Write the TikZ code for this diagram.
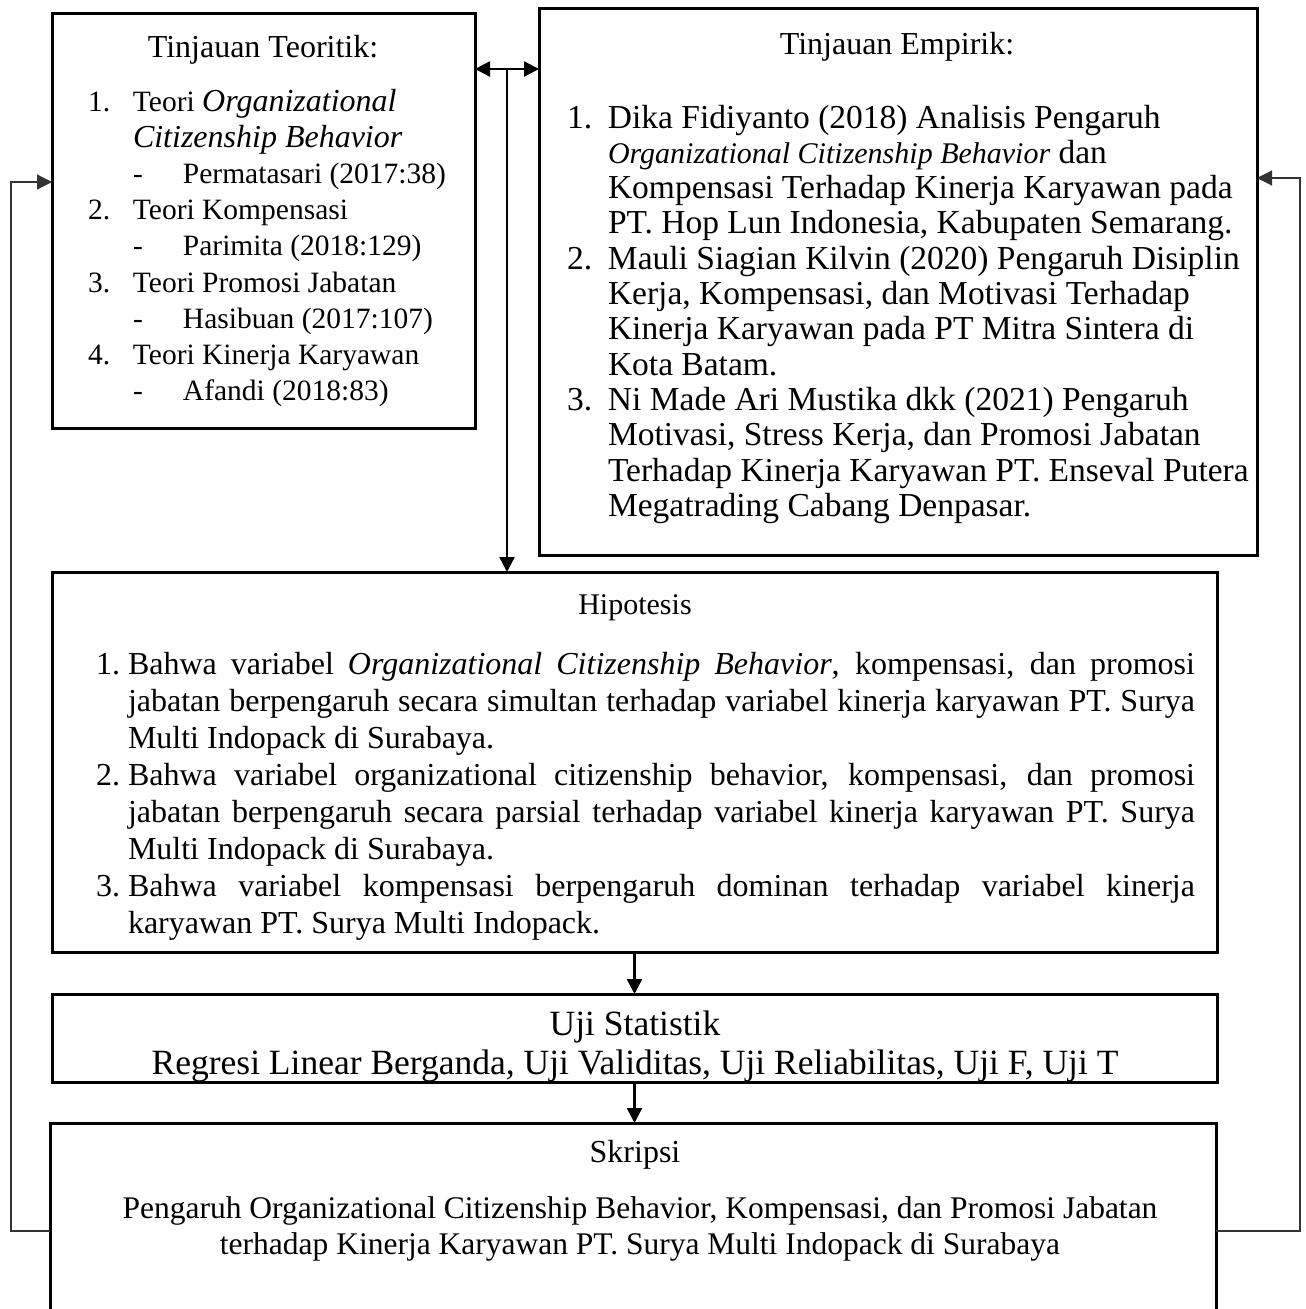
\documentclass[tikz,border=0pt]{standalone}
\usepackage{fontspec}
\setmainfont{Liberation Serif}
\usetikzlibrary{arrows.meta}
\newcommand\fontspaces{\spaceskip=0pt\relax\xspaceskip=0pt\relax}

\begin{document}
\begin{tikzpicture}[x=1pt,y=-1pt,
	box/.style={draw,line width=3pt,inner sep=0pt,outer sep=0pt,anchor=north west},
	link/.style={line width=2.4pt},
	back/.style={line width=1.2pt,draw=black!80},
	txt/.style={inner sep=0pt,outer sep=0pt,anchor=base west,font=\fontsize{29.5}{36.2}\selectfont},
	>={Triangle[length=15pt,width=15pt]}]
	\clip (0,0) rectangle (1306,1309);
	% boxes
		\node[box,minimum width=423pt,minimum height=415pt] (teori) at (52,13) {};
		\node[box,minimum width=718pt,minimum height=547pt] (empiris) at (539,8) {};
		\node[box,minimum width=1165pt,minimum height=380pt] (hipo) at (52,572) {};
		\node[box,minimum width=1165pt,minimum height=88pt] (uji) at (52,994) {};
		\node[box,minimum width=1166pt,minimum height=216pt] (skripsi) at (50,1123) {};
	% tinjauan teoritik
		\node[txt,anchor=base,font=\fontsize{32}{36}\selectfont] (teoriT) at (263,57) {Tinjauan Teoritik:};
		\node[txt,text width=385pt,align=left] (teoriL) at (88,111) {\fontspaces
			\makebox[45pt][l]{1.}Teori {\fontsize{32}{36.2}\selectfont\itshape Organizational}\\
			\hspace*{45pt}{\fontsize{32}{36.2}\selectfont\itshape Citizenship Behavior}\\
			\hspace*{45pt}\makebox[50pt][l]{-}Permatasari (2017:38)\\
			\makebox[45pt][l]{2.}Teori Kompensasi\\
			\hspace*{45pt}\makebox[50pt][l]{-}Parimita (2018:129)\\
			\makebox[45pt][l]{3.}Teori Promosi Jabatan\\
			\hspace*{45pt}\makebox[50pt][l]{-}Hasibuan (2017:107)\\
			\makebox[45pt][l]{4.}Teori Kinerja Karyawan\\
			\hspace*{45pt}\makebox[50pt][l]{-}Afandi (2018:83)};
	% tinjauan empirik
		\node[txt,anchor=base,font=\fontsize{32}{36}\selectfont] (empirisT) at (897,54) {Tinjauan Empirik:};
		\node[txt,text width=705pt,align=left,font=\fontsize{33.5}{35.3}\selectfont] (empirisL) at (567,128) {\fontspaces
			\makebox[41pt][l]{1.}Dika Fidiyanto (2018) Analisis Pengaruh\\
			\hspace*{41pt}{\fontsize{30}{35.3}\selectfont\itshape Organizational Citizenship Behavior} dan\\
			\hspace*{41pt}Kompensasi Terhadap Kinerja Karyawan pada\\
			\hspace*{41pt}PT. Hop Lun Indonesia, Kabupaten Semarang.\\
			\makebox[41pt][l]{2.}Mauli Siagian Kilvin (2020) Pengaruh Disiplin\\
			\hspace*{41pt}Kerja, Kompensasi, dan Motivasi Terhadap\\
			\hspace*{41pt}Kinerja Karyawan pada PT Mitra Sintera di\\
			\hspace*{41pt}Kota Batam.\\
			\makebox[41pt][l]{3.}Ni Made Ari Mustika dkk (2021) Pengaruh\\
			\hspace*{41pt}Motivasi, Stress Kerja, dan Promosi Jabatan\\
			\hspace*{41pt}Terhadap Kinerja Karyawan PT. Enseval Putera\\
			\hspace*{41pt}Megatrading Cabang Denpasar.};
	% hipotesis
		\node[txt,anchor=base,font=\fontsize{30}{36}\selectfont] (hipoT) at (635,614) {Hipotesis};
		\node[txt,text width=1120pt,align=left,font=\fontsize{32}{37}\selectfont] (hipoL) at (96,674) {\fontspaces
			\makebox[32pt][l]{1.}\hbox to 1067pt{Bahwa variabel \textit{Organizational Citizenship Behavior}, kompensasi, dan promosi}\\
			\hspace*{32pt}\hbox to 1067pt{jabatan berpengaruh secara simultan terhadap variabel kinerja karyawan PT. Surya}\\
			\hspace*{32pt}Multi Indopack di Surabaya.\\
			\makebox[32pt][l]{2.}\hbox to 1067pt{Bahwa variabel organizational citizenship behavior, kompensasi, dan promosi}\\
			\hspace*{32pt}\hbox to 1067pt{jabatan berpengaruh secara parsial terhadap variabel kinerja karyawan PT. Surya}\\
			\hspace*{32pt}Multi Indopack di Surabaya.\\
			\makebox[32pt][l]{3.}\hbox to 1067pt{Bahwa variabel kompensasi berpengaruh dominan terhadap variabel kinerja}\\
			\hspace*{32pt}karyawan PT. Surya Multi Indopack.};
	% uji statistik
		\node[txt,anchor=base,font=\fontsize{35.5}{39}\selectfont] (ujiT) at (635,1035) {Uji Statistik};
		\node[txt,anchor=base,font=\fontsize{35.5}{39}\selectfont] (ujiL) at (635,1074) {Regresi Linear Berganda, Uji Validitas, Uji Reliabilitas, Uji F, Uji T};
	% skripsi
		\node[txt,anchor=base,font=\fontsize{32}{36}\selectfont] (skripsiT) at (635,1162) {Skripsi};
		\node[txt,anchor=base,text width=1150pt,align=center,font=\fontsize{31.5}{36}\selectfont] (skripsiL) at (640,1218) {\fontspaces
			\mbox{Pengaruh Organizational Citizenship Behavior, Kompensasi, dan Promosi Jabatan}\\
			\mbox{terhadap Kinerja Karyawan PT. Surya Multi Indopack di Surabaya}};
	% connectors
		\coordinate (split) at (507,69);
		\draw[link,<->] (teori.east|-split) -- (empiris.west|-split);
		\draw[link,->] (split) -- (split|-hipo.north);
		\draw[link,->] (hipo.south) -- (hipo.south|-uji.north);
		\draw[link,->] (uji.south) -- (uji.south|-skripsi.north);
	% feedback lines
		\coordinate (backL) at (11,182);
		\coordinate (backR) at (1300,178);
		\draw[back,->] (skripsi.west) -| (backL) -- (backL-|teori.west);
		\draw[back,->] (skripsi.east) -| (backR) -- (backR-|empiris.east);
\end{tikzpicture}
\end{document}
